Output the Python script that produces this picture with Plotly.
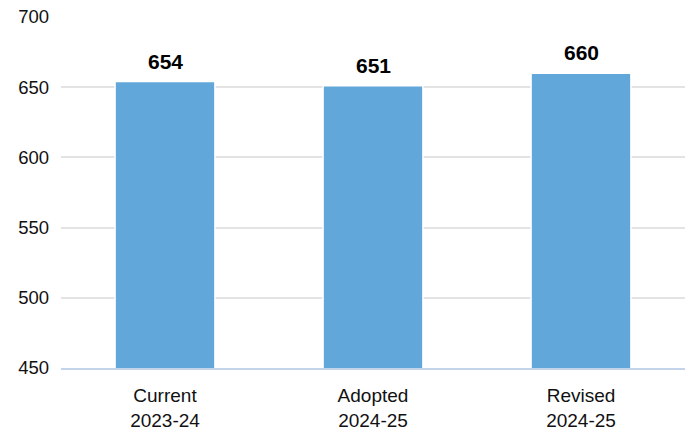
import plotly.graph_objects as go

categories = ["Current<br>2023-24", "Adopted<br>2024-25", "Revised<br>2024-25"]
values = [654, 651, 660]
labels = ["654", "651", "660"]

fig = go.Figure(go.Bar(
    x=categories, y=values,
    marker=dict(color="#62a7d9", line=dict(color="white", width=1.5)),
    width=0.48,
))
for c, v, t in zip(categories, values, labels):
    fig.add_annotation(x=c, y=v, text=t, showarrow=False, yanchor="bottom", yshift=7,
                       font=dict(family="Liberation Sans, Arial", size=21, color="black", weight="bold"))
fig.update_layout(
    width=685, height=431, margin=dict(l=61, r=0, t=17, b=63),
    paper_bgcolor="white", plot_bgcolor="white", showlegend=False,
    font=dict(family="Liberation Sans, Arial", size=18, color="#222"),
)
fig.update_yaxes(range=[450, 700], dtick=50, showgrid=True, gridcolor="#e3e3e3", gridwidth=1.5,
                 zeroline=False, showline=False, ticks="", ticklabelstandoff=11,
                 tickfont=dict(size=18.5, color="#111"))
fig.update_xaxes(showline=True, linecolor="#c5d3ea", linewidth=2, ticks="",
                 tickfont=dict(size=19, color="#111"), ticklabelstandoff=9)
fig.write_html("out.html")
